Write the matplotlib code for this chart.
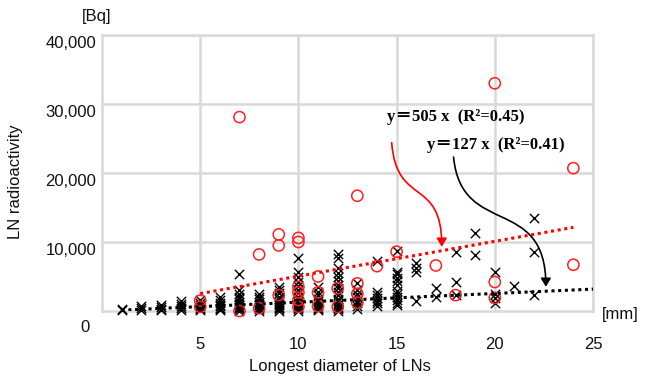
import numpy as np
import matplotlib
matplotlib.use("Agg")
import matplotlib.pyplot as plt
from matplotlib.path import Path
from matplotlib.patches import FancyArrowPatch
from matplotlib.transforms import ScaledTranslation

plt.rcParams['font.family'] = ['Liberation Sans', 'DejaVu Sans']

# black crosses: longest diameter [mm] vs radioactivity [Bq]
cross_x = ([1] * 2 + [2] * 3 + [3] * 4 + [4] * 5 + [5] * 7 + [6] * 8 + [7] * 12 + [8] * 10
           + [9] * 12 + [10] * 16 + [11] * 10 + [12] * 18 + [13] * 8 + [14] * 7 + [15] * 12
           + [16] * 4 + [17] * 2 + [18] * 3 + [19] * 2 + [20] * 4 + [21] + [22] * 3)
cross_y = [100, 300,
           150, 400, 700,
           100, 300, 600, 900,
           100, 400, 700, 1000, 1400,
           100, 300, 500, 700, 900, 1200, 1600,
           100, 300, 500, 700, 900, 1200, 1600, 2000,
           50, 250, 450, 650, 850, 1050, 1300, 1700, 2100, 2500, 3000, 5300,
           50, 250, 450, 650, 850, 1050, 1300, 1700, 2100, 2500,
           50, 250, 450, 650, 850, 1050, 1300, 1700, 2100, 2600, 3000, 3500,
           50, 250, 450, 650, 850, 1050, 1300, 1700, 2100, 2600, 3100, 3600, 4200, 4900, 5700, 7700,
           100, 300, 500, 700, 1000, 1400, 1800, 2300, 2800, 3500,
           50, 250, 450, 650, 850, 1050, 1400, 1800, 2300, 2800, 3300, 3800, 4300, 4900, 5500, 6200, 7700, 8200,
           300, 700, 1100, 1500, 2000, 2500, 3000, 4000,
           700, 1100, 1500, 1900, 2300, 2800, 7300,
           800, 1200, 1600, 2000, 2500, 2900, 3800, 4300, 4800, 5300, 5700, 8700,
           1500, 5600, 6300, 7000,
           2000, 3300,
           2300, 4200, 8600,
           8100, 11300,
           1100, 1900, 2500, 5600,
           3600,
           2300, 8600, 13500]

# red circles
circle_x = [5, 5, 7, 7, 8, 8, 9, 9, 9, 10, 10, 10, 10, 10, 10, 11, 11, 11, 12, 12,
            13, 13, 13, 13, 14, 15, 17, 18, 20, 20, 20, 24, 24]
circle_y = [600, 1500, 28100, 0, 8200, 400, 11100, 9500, 2300,
            10600, 10000, 3500, 2700, 1600, 600,
            5000, 2700, 700, 3300, 600,
            16700, 4000, 2500, 1200, 6500, 8600, 6600, 2300,
            33000, 4200, 1900, 20700, 6700]

# regression fits through origin
red_slope, red_range = 505, [5, 24]
black_slope, black_range = 127, [1, 25]
red_label = 'y\uff1d505 x  (R²=0.45)'
black_label = 'y\uff1d127 x  (R²=0.41)'

x_ticks = [5, 10, 15, 20, 25]
y_ticks = [10000, 20000, 30000, 40000]
y_ticklabels = ['10,000', '20,000', '30,000', '40,000']

fig = plt.figure(figsize=(6.48, 3.79), dpi=100)
ax = fig.add_axes([102 / 648, 68 / 379, 491 / 648, 276 / 379])
ax.set_xlim(0, 25)
ax.set_ylim(0, 40000)

grid_c = '#d9d9d9'
ax.set_xticks(x_ticks)
ax.set_yticks(y_ticks)
ax.set_yticklabels(y_ticklabels)
ax.grid(True, color=grid_c, lw=1.8)
ax.set_axisbelow(True)
for s in ax.spines.values():
    s.set_color(grid_c)
    s.set_linewidth(1.8)
ax.tick_params(length=0, labelsize=12, colors='#111111')
ax.tick_params(axis='x', pad=19)
ax.tick_params(axis='y', pad=4)
for lab in ax.get_yticklabels():
    lab.set_transform(lab.get_transform() + ScaledTranslation(0, -5 / 72, fig.dpi_scale_trans))

ax.scatter(cross_x, cross_y, marker='x', s=45, c='black', linewidths=1.0, zorder=3, clip_on=False)
ax.scatter(circle_x, circle_y, marker='o', s=65, facecolors='none', edgecolors='#ff2020',
           linewidths=1.1, zorder=4, clip_on=False)

xr = np.array(red_range, dtype=float)
ax.plot(xr, red_slope * xr, color='red', lw=2.2, linestyle=(0, (1, 1.2)), zorder=5)
xb = np.array(black_range, dtype=float)
ax.plot(xb, black_slope * xb, color='black', lw=2.2, linestyle=(0, (1, 1.2)), zorder=5)

# annotations
serif = ['Liberation Serif', 'Noto Sans CJK JP']
ax.text(14.5, 28100, red_label, family=serif, fontweight='bold',
        fontsize=12, va='center', ha='left')
ax.text(16.55, 24100, black_label, family=serif, fontweight='bold',
        fontsize=12, va='center', ha='left')

red_path = Path([(14.75, 24400), (15.0, 15000), (17.3, 19500), (17.3, 9300)],
                [Path.MOVETO, Path.CURVE4, Path.CURVE4, Path.CURVE4])
ax.add_patch(FancyArrowPatch(path=red_path, arrowstyle='-|>,head_length=5,head_width=3',
                             color='red', lw=1.2, zorder=6))
black_path = Path([(17.9, 22300), (18.3, 10500), (22.6, 17000), (22.6, 3500)],
                  [Path.MOVETO, Path.CURVE4, Path.CURVE4, Path.CURVE4])
ax.add_patch(FancyArrowPatch(path=black_path, arrowstyle='-|>,head_length=5,head_width=3',
                             color='black', lw=1.2, zorder=6))

fig.text(97 / 648, 1 - 17 / 379, '[Bq]', fontsize=12, ha='center', va='center', color='#111111')
fig.text(85 / 648, 1 - 327 / 379, '0', fontsize=12, ha='center', va='center', color='#111111')
fig.text(620 / 648, 1 - 314 / 379, '[mm]', fontsize=12, ha='center', va='center', color='#111111')
fig.text(16 / 648, 1 - 182 / 379, 'LN radioactivity', fontsize=12, rotation=90,
         ha='center', va='center', color='#111111')
fig.text(340 / 648, 1 - 366 / 379, 'Longest diameter of LNs', fontsize=12,
         ha='center', va='center', color='#111111')

fig.savefig('out.png', dpi=100)
